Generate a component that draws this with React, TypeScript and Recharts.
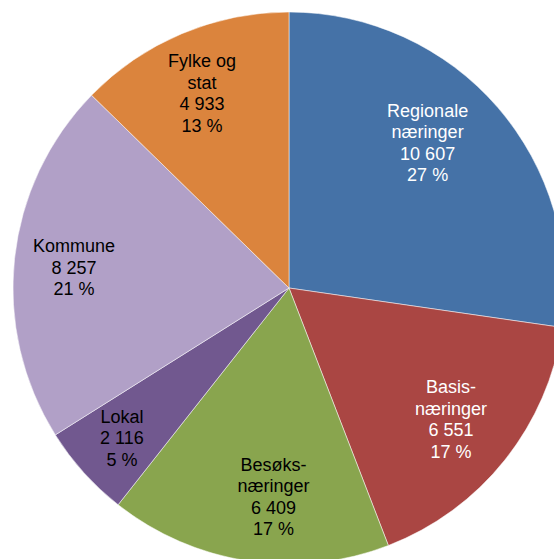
import { PieChart, Pie, Cell } from 'recharts';

const categories = [
	['Regionale', 'næringer'],
	['Basis-', 'næringer'],
	['Besøks-', 'næringer'],
	['Lokal'],
	['Kommune'],
	['Fylke og', 'stat'],
];
const values = [10607, 6551, 6409, 2116, 8257, 4933];
const percents = [27, 17, 17, 5, 21, 13];

const colors = ['#4572A7', '#AA4643', '#89A54E', '#71588F', '#B1A0C7', '#DB843D'];
const textColors = ['#FFFFFF', '#FFFFFF', '#000000', '#000000', '#000000', '#000000'];
// small manual nudges of the label blocks, like the hand-placed labels in the original
const labelNudge = [
	[-21, -7],
	[-3, 0],
	[16, 0],
	[-10, 9],
	[-5, 2],
	[-5, 0],
];

const data = values.map((value, i) => ({
	name: categories[i].join(' '),
	value,
	lines: [...categories[i], value.toLocaleString('en-US').replace(',', ' '), `${percents[i]} %`],
}));

const RADIAN = Math.PI / 180;
const LINE_HEIGHT = 21.5;

const renderLabel = (props: any) => {
	const { cx, cy, midAngle, outerRadius, index } = props;
	const r = outerRadius * 0.765;
	const x = cx + r * Math.cos(-midAngle * RADIAN) + labelNudge[index][0];
	const y = cy + r * Math.sin(-midAngle * RADIAN) + labelNudge[index][1];
	const lines: string[] = data[index].lines;
	const top = y - ((lines.length - 1) * LINE_HEIGHT) / 2;
	return (
		<text
			x={x}
			y={top}
			fill={textColors[index]}
			textAnchor="middle"
			dominantBaseline="central"
			fontSize={18}
			fontFamily="'Liberation Sans', Arial, sans-serif"
		>
			{lines.map((line, i) => (
				<tspan key={i} x={x} y={top + i * LINE_HEIGHT}>
					{line}
				</tspan>
			))}
		</text>
	);
};

export default function App() {
	return (
		<div style={{ position: 'absolute', left: 0, top: 0, width: 554, height: 559, background: '#fff' }}>
			<PieChart width={554} height={559} margin={{ top: 0, right: 0, bottom: 0, left: 0 }}>
				<Pie
					data={data}
					dataKey="value"
					cx={289}
					cy={288}
					outerRadius={276}
					startAngle={90}
					endAngle={-270}
					stroke="rgba(255,255,255,0.5)"
					strokeWidth={1}
					label={renderLabel}
					labelLine={false}
					isAnimationActive={false}
				>
					{data.map((_, i) => (
						<Cell key={i} fill={colors[i]} />
					))}
				</Pie>
			</PieChart>
		</div>
	);
}
